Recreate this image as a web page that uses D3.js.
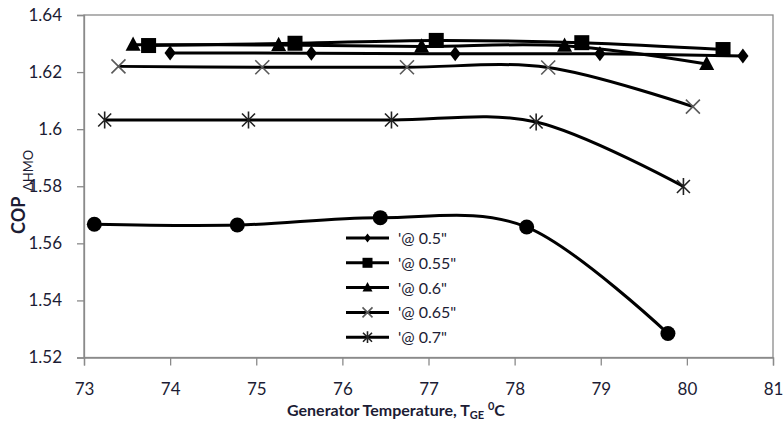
<!DOCTYPE html>
<html>
<head>
<meta charset="utf-8">
<script src="https://cdn.jsdelivr.net/npm/d3@7"></script>
<style>
  body { margin: 0; background: #fff; }
  svg { display: block; font-family: Lato, "Open Sans", sans-serif; }
</style>
</head>
<body>
<div id="chart"></div>
<script>
// Generator temperature (x) and COP values for each series
const temp05 = [74.0, 75.64, 77.31, 78.99, 80.65];
const cop05 = [1.6267, 1.6266, 1.6264, 1.6264, 1.6256];

const temp055 = [73.75, 75.45, 77.09, 78.78, 80.42];
const cop055 = [1.6293, 1.6301, 1.6311, 1.6303, 1.6279];

const temp06 = [73.57, 75.26, 76.92, 78.58, 80.23];
const cop06 = [1.6296, 1.6295, 1.6290, 1.6292, 1.6228];

const temp065 = [73.40, 75.07, 76.75, 78.39, 80.07];
const cop065 = [1.6220, 1.6217, 1.6217, 1.6216, 1.6079];

const temp07 = [73.24, 74.91, 76.57, 78.25, 79.96];
const cop07 = [1.6032, 1.6032, 1.6032, 1.6025, 1.5799];

// extra series with round markers (not in legend)
const tempDot = [73.12, 74.78, 76.44, 78.14, 79.78];
const copDot = [1.5667, 1.5664, 1.5690, 1.5657, 1.5284];

const xTicks = [73, 74, 75, 76, 77, 78, 79, 80, 81];
const yTicks = [1.52, 1.54, 1.56, 1.58, 1.60, 1.62, 1.64];
const legendLabels = ["'@ 0.5\"", "'@ 0.55\"", "'@ 0.6\"", "'@ 0.65\"", "'@ 0.7\""];

const W = 783, H = 421;
const LEFT = 84, RIGHT = 773, TOP = 15, BOTTOM = 357.5;
const axisColor = '#8a8a8a';
const textColor = '#1c1c34';

const x = d3.scaleLinear().domain([73, 81]).range([LEFT, RIGHT]);
const y = d3.scaleLinear().domain([1.52, 1.64]).range([BOTTOM, TOP]);

const svg = d3.select('#chart').append('svg')
  .attr('width', W).attr('height', H);

// plot frame
svg.append('rect')
  .attr('x', LEFT).attr('y', TOP)
  .attr('width', RIGHT - LEFT).attr('height', BOTTOM - TOP)
  .attr('fill', 'none').attr('stroke', axisColor).attr('stroke-width', 1.3);

// axes
const yAxis = svg.append('g')
  .attr('transform', `translate(${LEFT},0)`)
  .call(d3.axisLeft(y).tickValues(yTicks).tickSize(7).tickPadding(15)
    .tickFormat(d => d3.format('')(+d.toFixed(2))));
const xAxis = svg.append('g')
  .attr('transform', `translate(0,${BOTTOM})`)
  .call(d3.axisBottom(x).tickValues(xTicks).tickSize(8).tickPadding(17));

[yAxis, xAxis].forEach(g => {
  g.select('.domain').attr('stroke', axisColor).attr('stroke-width', 1.3);
  g.selectAll('.tick line').attr('stroke', axisColor).attr('stroke-width', 1.3);
  g.selectAll('.tick text').attr('fill', textColor)
    .style('font-size', '17px').style('font-family', 'Lato, sans-serif');
});

// axis titles
const xt = svg.append('text')
  .attr('x', 287).attr('y', 416)
  .attr('fill', textColor)
  .style('font-size', '16px').style('font-weight', 'bold');
xt.append('tspan').text('Generator Temperature, T');
xt.append('tspan').attr('dy', 3).style('font-size', '11px').text('GE');
xt.append('tspan').attr('dy', -3).text(' ');
xt.append('tspan').attr('dy', -6).style('font-size', '11px').text('0');
xt.append('tspan').attr('dy', 6).text('C');

svg.append('text')
  .attr('transform', 'translate(25,234) rotate(-90)')
  .attr('fill', textColor)
  .style('font-size', '18px').style('font-weight', 'bold')
  .text('COP');
svg.append('text')
  .attr('transform', 'translate(33,191) rotate(-90)')
  .attr('fill', textColor)
  .style('font-size', '13px')
  .text('ΔHMO');

// marker shapes
function marker(g, type, s) {
  if (type === 'diamond') {
    g.append('path')
      .attr('d', `M0,${-s}L${s * 0.75},0L0,${s}L${-s * 0.75},0Z`)
      .attr('fill', '#000');
  } else if (type === 'square') {
    g.append('rect').attr('x', -s).attr('y', -s)
      .attr('width', 2 * s).attr('height', 2 * s).attr('fill', '#000');
  } else if (type === 'triangle') {
    g.append('path')
      .attr('d', `M0,${-s * 1.1}L${s},${s * 0.8}L${-s},${s * 0.8}Z`)
      .attr('fill', '#000');
  } else if (type === 'circle') {
    g.append('circle').attr('r', s).attr('fill', '#000');
  } else if (type === 'cross') {
    g.append('path')
      .attr('d', `M${-s},${-s}L${s},${s}M${-s},${s}L${s},${-s}`)
      .attr('stroke', '#5a5a5a').attr('stroke-width', 1.6).attr('fill', 'none');
  } else if (type === 'star') {
    g.append('path')
      .attr('d', `M${-s},${-s}L${s},${s}M${-s},${s}L${s},${-s}M0,${-s * 1.3}L0,${s * 1.3}`)
      .attr('stroke', '#222').attr('stroke-width', 1.6).attr('fill', 'none');
  }
}

const series = [
  { xs: temp05, ys: cop05, type: 'diamond', size: 7.5, legend: 4.5 },
  { xs: temp055, ys: cop055, type: 'square', size: 7.5, legend: 5 },
  { xs: temp06, ys: cop06, type: 'triangle', size: 7.5, legend: 5 },
  { xs: temp065, ys: cop065, type: 'cross', size: 7, legend: 5 },
  { xs: temp07, ys: cop07, type: 'star', size: 6.5, legend: 4.5 },
  { xs: tempDot, ys: copDot, type: 'circle', size: 7.5 }
];

const line = d3.line()
  .x(d => x(d[0])).y(d => y(d[1]))
  .curve(d3.curveCardinal.tension(0));

series.forEach(s => {
  const pts = s.xs.map((v, i) => [v, s.ys[i]]);
  svg.append('path')
    .datum(pts)
    .attr('d', line)
    .attr('fill', 'none')
    .attr('stroke', '#000')
    .attr('stroke-width', 3);
  pts.forEach(p => {
    const g = svg.append('g').attr('transform', `translate(${x(p[0])},${y(p[1])})`);
    marker(g, s.type, s.size);
  });
});

// legend
const legend = svg.append('g').attr('transform', 'translate(346,238)');
legendLabels.forEach((label, i) => {
  const row = legend.append('g').attr('transform', `translate(0,${i * 24.8})`);
  row.append('line').attr('x1', 0).attr('x2', 43)
    .attr('stroke', '#000').attr('stroke-width', 3);
  const m = row.append('g').attr('transform', 'translate(21.5,0)');
  marker(m, series[i].type, series[i].legend);
  row.append('text')
    .attr('x', 52).attr('y', 6)
    .attr('fill', textColor)
    .style('font-size', '16px')
    .text(label);
});
</script>
</body>
</html>
